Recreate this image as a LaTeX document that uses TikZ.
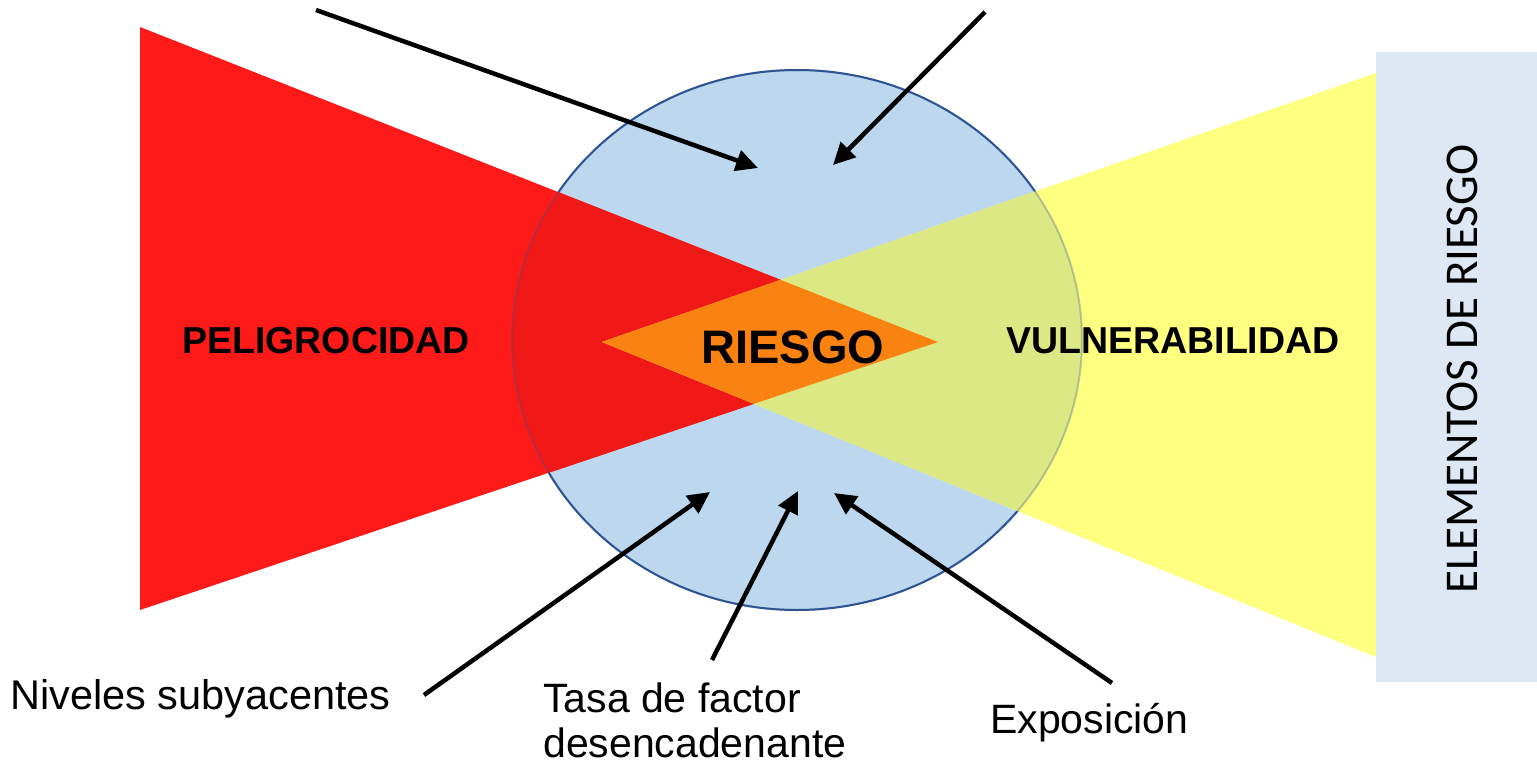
\documentclass[tikz,border=0pt]{standalone}
\usepackage{fontspec}
\setmainfont{Liberation Sans}
\newfontfamily\calib{Carlito}
\usetikzlibrary{arrows.meta}
\definecolor{rojo}{HTML}{FF1A1A}
\definecolor{rojoin}{HTML}{F11818}
\definecolor{amar}{HTML}{FFFF80}
\definecolor{amarin}{HTML}{DCE883}
\definecolor{azul}{HTML}{BDD7EE}
\definecolor{borde}{HTML}{2E5494}
\definecolor{naranja}{HTML}{FA8210}
\definecolor{caja}{HTML}{DEE8F4}
\tikzset{
  flecha/.style={line width=4.5pt, -{Triangle[length=22pt,width=21pt]}},
  titulo/.style={inner sep=0pt, font=\bfseries\fontsize{37.5}{44}\selectfont},
  etiqueta/.style={inner sep=0pt, font=\fontsize{41}{45}\selectfont},
}
\begin{document}
\begin{tikzpicture}[x=1pt,y=-1pt]
\useasboundingbox (0,0) rectangle (1537,765);
% circle
\fill[azul] (797,340) ellipse [x radius=285, y radius=270];
\draw[borde, line width=2pt] (797,340) ellipse [x radius=285, y radius=270];
% triangles
\fill[rojo] (140,27) -- (140,610) -- (938,342) -- cycle;
\fill[amar] (1376,73) -- (1376,657) -- (602,342) -- cycle;
\begin{scope}
  \clip (797,340) ellipse [x radius=285, y radius=270];
  \fill[rojoin] (140,27) -- (140,610) -- (938,342) -- cycle;
  \fill[amarin] (1376,73) -- (1376,657) -- (602,342) -- cycle;
\end{scope}
\draw[borde, line width=2pt, opacity=0.3] (797,340) ellipse [x radius=285, y radius=270];
\begin{scope}
  \clip (140,27) -- (140,610) -- (938,342) -- cycle;
  \fill[naranja] (1376,73) -- (1376,657) -- (602,342) -- cycle;
\end{scope}
% box
\fill[caja] (1376,52) rectangle (1537,682);
\node[inner sep=0pt, rotate=90, font=\calib\fontsize{47}{50}\selectfont] (elem) at (1462,369) {ELEMENTOS DE RIESGO};
% titles
\node[titulo, anchor=base] (pel) at (326,353) {PELIGROCIDAD};
\node[titulo, anchor=base, font=\bfseries\fontsize{47}{50}\selectfont] (riesgo) at (793,363) {RIESGO};
\node[titulo, anchor=base] (vul) at (1173,353) {VULNERABILIDAD};
% labels
\node[etiqueta, anchor=base west, font=\fontsize{41.5}{45}\selectfont] (niv) at (10,709) {Niveles subyacentes};
\node[etiqueta, anchor=base west, align=left] (tasa) at (543,757) {Tasa de factor\\desencadenante};
\node[etiqueta, anchor=base west] (expo) at (990,733) {Exposición};
% arrows
\coordinate (a1s) at (316,10);   \coordinate (a1e) at (758,168);
\coordinate (a2s) at (985,12);   \coordinate (a2e) at (833,165);
\coordinate (a3s) at (424,695);  \coordinate (a3e) at (710,492);
\coordinate (a4s) at (712,660);  \coordinate (a4e) at (798,491);
\coordinate (a5s) at (1112,683); \coordinate (a5e) at (834,493);
\draw[flecha] (a1s) -- (a1e);
\draw[flecha] (a2s) -- (a2e);
\draw[flecha] (a3s) -- (a3e);
\draw[flecha] (a4s) -- (a4e);
\draw[flecha] (a5s) -- (a5e);
\end{tikzpicture}
\end{document}
